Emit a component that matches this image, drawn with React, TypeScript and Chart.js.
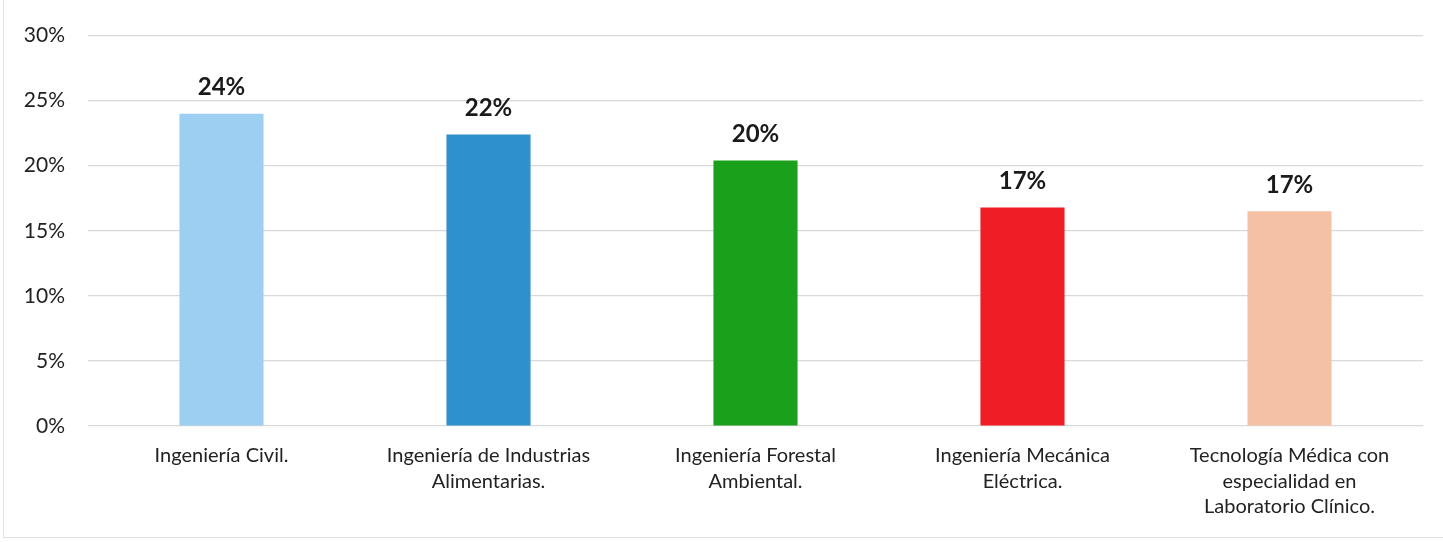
import React, { useEffect, useRef } from "react";
import { Chart, registerables } from "chart.js";

Chart.register(...registerables);

const categories: string[][] = [
  ["Ingeniería Civil."],
  ["Ingeniería de Industrias", "Alimentarias."],
  ["Ingeniería Forestal", "Ambiental."],
  ["Ingeniería Mecánica", "Eléctrica."],
  ["Tecnología Médica con", "especialidad en", "Laboratorio Clínico."],
];
const values: number[] = [0.24, 0.224, 0.204, 0.168, 0.165];
const barColors: string[] = ["#9DCFF2", "#2E91CD", "#1AA01A", "#EE1E24", "#F5C1A5"];
const yTicks: number[] = [0, 0.05, 0.1, 0.15, 0.2, 0.25, 0.3];

const FONT = "Lato, 'Open Sans', sans-serif";

const valueLabels = {
  id: "valueLabels",
  afterDatasetsDraw(chart: any) {
    const ctx = chart.ctx;
    const meta = chart.getDatasetMeta(0);
    ctx.save();
    ctx.font = `bold 24px ${FONT}`;
    ctx.fillStyle = "#1a1a1a";
    ctx.textAlign = "center";
    ctx.textBaseline = "middle";
    meta.data.forEach((bar: any, i: number) => {
      const v = chart.data.datasets[0].data[i] as number;
      ctx.fillText(`${Math.round(v * 100)}%`, bar.x, bar.y - 26);
    });
    ctx.restore();
  },
};

export default function App() {
  const ref = useRef<HTMLCanvasElement | null>(null);
  useEffect(() => {
    if (!ref.current) return;
    const chart = new Chart(ref.current, {
      type: "bar",
      data: {
        labels: categories,
        datasets: [
          {
            data: values,
            backgroundColor: barColors,
            borderWidth: 0,
            categoryPercentage: 1,
            barPercentage: 0.315,
          },
        ],
      },
      options: {
        responsive: false,
        animation: false,
        maintainAspectRatio: false,
        layout: { padding: { top: 31, right: 20, bottom: 0, left: 0 } },
        plugins: {
          legend: { display: false },
          tooltip: { enabled: false },
          title: { display: false },
        },
        scales: {
          x: {
            grid: { display: false },
            border: { display: false },
            ticks: {
              color: "#222222",
              font: { family: FONT, size: 20, lineHeight: 25.5 / 20 },
              padding: 9,
              maxRotation: 0,
              autoSkip: false,
            },
            afterFit: (scale: any) => {
              scale.height = 116;
            },
          },
          y: {
            min: 0,
            max: 0.3,
            afterBuildTicks: (scale: any) => {
              scale.ticks = yTicks.map((v) => ({ value: v }));
            },
            grid: {
              color: "#d9d9d9",
              lineWidth: 1.2,
              drawTicks: false,
            },
            border: { display: false },
            ticks: {
              color: "#222222",
              font: { family: FONT, size: 21 },
              padding: 23,
              callback: (v: any) => `${Math.round(Number(v) * 100)}%`,
            },
            afterFit: (scale: any) => {
              scale.width = 88;
            },
          },
        },
      },
      plugins: [valueLabels],
    });
    return () => chart.destroy();
  }, []);

  return (
    <div
      style={{
        position: "fixed",
        left: 0,
        top: 0,
        width: 1443,
        height: 542,
        background: "#ffffff",
      }}
    >
      <div
        style={{
          position: "absolute",
          left: 3,
          top: 0,
          width: 1440,
          height: 538,
          borderLeft: "1px solid #e2e2e2",
          borderBottom: "1px solid #e2e2e2",
          boxSizing: "border-box",
        }}
      />
      <canvas
        ref={ref}
        width={1443}
        height={542}
        style={{ position: "absolute", left: 0, top: 0, width: 1443, height: 542 }}
      />
    </div>
  );
}
